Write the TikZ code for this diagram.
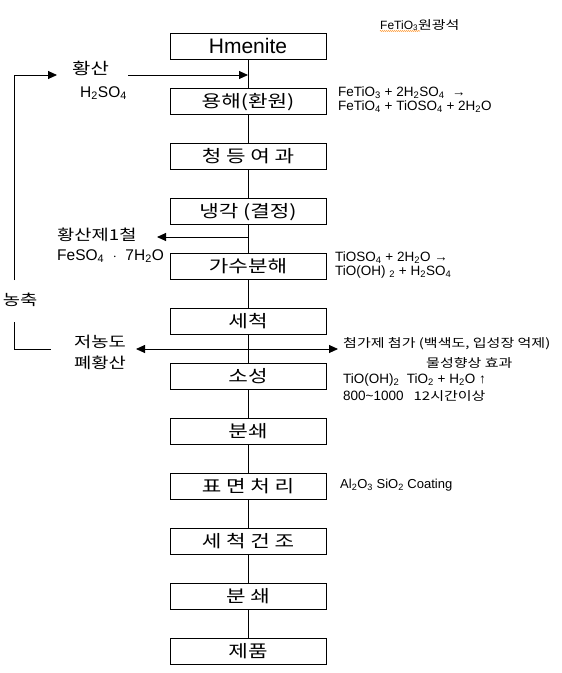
\documentclass[tikz,border=0pt]{standalone}
\usepackage{fontspec}
\setmainfont{Liberation Sans}
\newfontfamily\kr{Noto Sans CJK KR}[FakeStretch=1.25]
\usetikzlibrary{arrows.meta, positioning, decorations.pathmorphing}

\begin{document}
\begin{tikzpicture}[
    x=1pt, y=-1pt,
    node distance=29pt,
    stepbox/.style={rectangle, draw, line width=0.9pt, minimum width=156pt, minimum height=26pt, inner sep=0pt, outer sep=0pt, text height=14pt, text depth=1.5pt, font=\fontsize{17}{20}\selectfont\kr},
    side/.style={align=left, inner sep=0pt, font=\fontsize{15.5}{21}\selectfont},
    note/.style={align=left, inner sep=0pt, font=\fontsize{13.5}{14}\selectfont},
    line/.style={line width=0.9pt},
    arrow/.style={-{Triangle[length=9pt, width=8pt]}, line width=0.9pt},
    dblarrow/.style={{Triangle[length=9pt, width=8pt]}-{Triangle[length=9pt, width=8pt]}, line width=0.9pt}
]
\useasboundingbox (0,0) rectangle (562,673);

% Process steps from top to bottom
\node[stepbox, text height=17pt, text depth=2pt, font=\fontsize{21}{24}\selectfont] (hm) at (248,46) {Hmenite};
\node[stepbox, below=of hm] (dis) {용해(환원)};
\node[stepbox, below=of dis] (filt) {청 등 여 과};
\node[stepbox, below=of filt] (cool) {냉각 (결정)};
\node[stepbox, below=of cool] (hyd) {가수분해};
\node[stepbox, below=of hyd] (wash) {세척};
\node[stepbox, below=of wash] (fire) {소성};
\node[stepbox, below=of fire] (grinda) {분쇄};
\node[stepbox, below=of grinda] (surf) {표 면 처 리};
\node[stepbox, below=of surf] (dry) {세 척 건 조};
\node[stepbox, below=of dry] (grindb) {분 쇄};
\node[stepbox, below=of grindb] (prod) {제품};

% Main flow line
\draw[line] (hm) -- (dis);
\draw[line] (dis) -- (filt);
\draw[line] (filt) -- (cool);
\draw[line] (cool) -- (hyd);
\draw[line] (hyd) -- (wash);
\draw[line] (wash) -- (fire);
\draw[line] (fire) -- (grinda);
\draw[line] (grinda) -- (surf);
\draw[line] (surf) -- (dry);
\draw[line] (dry) -- (grindb);
\draw[line] (grindb) -- (prod);

% Ore label
\node[note, anchor=west, font=\fontsize{12}{12}\selectfont] (ore) at (380,25) {FeTiO\textsubscript{3}{\kr 원광석}};
\draw[orange, line width=0.5pt, decorate, decoration={snake, amplitude=0.5pt, segment length=2pt}] (380,31) -- (420,31);

% Sulfuric acid feed
\node[side, anchor=west, font=\fontsize{16}{21}\selectfont\kr] (acid) at (72,68) {황산};
\node[side, anchor=west] (acidf) at (80,93) {H\textsubscript{2}SO\textsubscript{4}};
\coordinate (acidstart) at (128,75);
\coordinate (acidend) at (248,75);
\draw[arrow] (acidstart) -- (acidend);

% Concentration loop
\node[side, font=\fontsize{15}{21}\selectfont\kr] (conc) at (20,300) {농축};
\coordinate (loopbot) at (14,280);
\coordinate (looptip) at (57,75);
\draw[arrow] (loopbot) |- (looptip);
\coordinate (brtop) at (14,322);
\coordinate (brend) at (51,349);
\draw[line] (brtop) |- (brend);

% Ferrous sulfate out
\node[side, anchor=west, font=\fontsize{15}{21}\selectfont\kr] (fes) at (57,235) {황산제1철};
\node[side, anchor=west] (fesf) at (57,256) {FeSO\textsubscript{4}\ \ $\cdot$\ \ 7H\textsubscript{2}O};
\coordinate (fesstart) at (248,237);
\coordinate (fesend) at (157,237);
\draw[arrow] (fesstart) -- (fesend);

% Waste acid and additives
\node[side, font=\fontsize{15}{21}\selectfont\kr] (waste) at (100,352) {저농도\\폐황산};
\coordinate (wasteend) at (136,349);
\coordinate (addend) at (338,349);
\draw[dblarrow] (wasteend) -- (addend);
\node[note, anchor=west, font=\fontsize{12}{14}\selectfont\kr] (adda) at (343,344) {첨가제 첨가 (백색도, 입성장 억제)};
\node[note, anchor=west, font=\fontsize{12}{14}\selectfont\kr] (addb) at (426,363) {물성향상 효과};

% Reactions
\node[note, anchor=west] (disr) at (338,100) {FeTiO\textsubscript{3} + 2H\textsubscript{2}SO\textsubscript{4}\ \ →\\FeTiO\textsubscript{4} + TiOSO\textsubscript{4} + 2H\textsubscript{2}O};
\node[note, anchor=west] (hydr) at (335,265) {TiOSO\textsubscript{4} + 2H\textsubscript{2}O →\\TiO(OH) \textsubscript{2} + H\textsubscript{2}SO\textsubscript{4}};
\node[note, anchor=west] (firera) at (343,380) {TiO(OH)\textsubscript{2}\ \ TiO\textsubscript{2} + H\textsubscript{2}O ↑};
\node[note, anchor=west] (fireb) at (343,396) {800\textasciitilde1000\hspace{10pt}{\kr\fontsize{12}{12}\selectfont 12시간이상}};
\node[note, anchor=west, font=\fontsize{13}{14}\selectfont] (surfr) at (340,485) {Al\textsubscript{2}O\textsubscript{3} SiO\textsubscript{2} Coating};

\end{tikzpicture}
\end{document}
